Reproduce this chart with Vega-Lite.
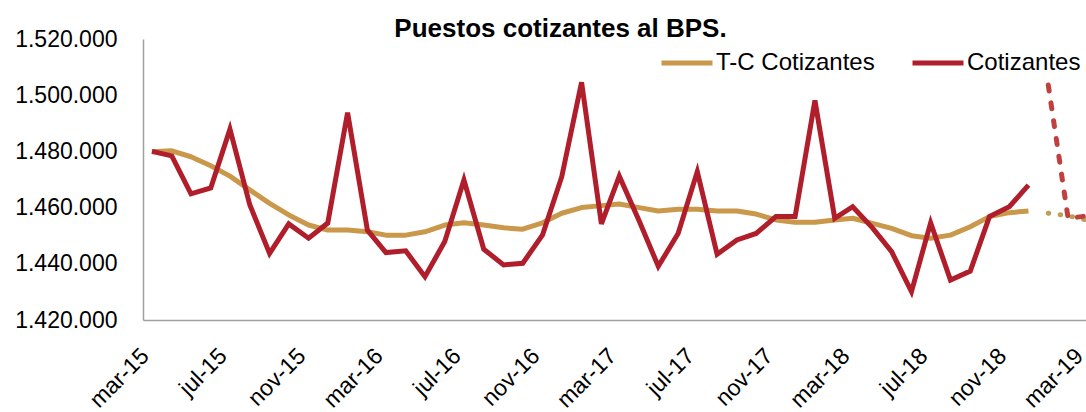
{
  "$schema": "https://vega.github.io/schema/vega-lite/v6.json",
  "autosize": {"type": "none"},
  "padding": {"left": 143, "top": 39, "right": 0, "bottom": 92},
  "width": 943,
  "height": 281,
  "background": "white",
  "title": {
    "text": "Puestos cotizantes al BPS.",
    "font": "Liberation Sans",
    "fontSize": 26,
    "fontWeight": "bold",
    "color": "#000000",
    "anchor": "middle",
    "frame": "group",
    "dx": -54,
    "dy": 14,
    "offset": 0
  },
  "data": {
    "values": [
      {"mes": "2015-03-01", "serie": "Cotizantes", "tipo": "observado", "valor": 1480000},
      {"mes": "2015-04-01", "serie": "Cotizantes", "tipo": "observado", "valor": 1478400},
      {"mes": "2015-05-01", "serie": "Cotizantes", "tipo": "observado", "valor": 1464900},
      {"mes": "2015-06-01", "serie": "Cotizantes", "tipo": "observado", "valor": 1467000},
      {"mes": "2015-07-01", "serie": "Cotizantes", "tipo": "observado", "valor": 1487900},
      {"mes": "2015-08-01", "serie": "Cotizantes", "tipo": "observado", "valor": 1461000},
      {"mes": "2015-09-01", "serie": "Cotizantes", "tipo": "observado", "valor": 1443700},
      {"mes": "2015-10-01", "serie": "Cotizantes", "tipo": "observado", "valor": 1454200},
      {"mes": "2015-11-01", "serie": "Cotizantes", "tipo": "observado", "valor": 1449100},
      {"mes": "2015-12-01", "serie": "Cotizantes", "tipo": "observado", "valor": 1454500},
      {"mes": "2016-01-01", "serie": "Cotizantes", "tipo": "observado", "valor": 1493800},
      {"mes": "2016-02-01", "serie": "Cotizantes", "tipo": "observado", "valor": 1452000},
      {"mes": "2016-03-01", "serie": "Cotizantes", "tipo": "observado", "valor": 1444000},
      {"mes": "2016-04-01", "serie": "Cotizantes", "tipo": "observado", "valor": 1444600},
      {"mes": "2016-05-01", "serie": "Cotizantes", "tipo": "observado", "valor": 1435400},
      {"mes": "2016-06-01", "serie": "Cotizantes", "tipo": "observado", "valor": 1447900},
      {"mes": "2016-07-01", "serie": "Cotizantes", "tipo": "observado", "valor": 1469800},
      {"mes": "2016-08-01", "serie": "Cotizantes", "tipo": "observado", "valor": 1445200},
      {"mes": "2016-09-01", "serie": "Cotizantes", "tipo": "observado", "valor": 1439600},
      {"mes": "2016-10-01", "serie": "Cotizantes", "tipo": "observado", "valor": 1440200},
      {"mes": "2016-11-01", "serie": "Cotizantes", "tipo": "observado", "valor": 1450300},
      {"mes": "2016-12-01", "serie": "Cotizantes", "tipo": "observado", "valor": 1471000},
      {"mes": "2017-01-01", "serie": "Cotizantes", "tipo": "observado", "valor": 1504600},
      {"mes": "2017-02-01", "serie": "Cotizantes", "tipo": "observado", "valor": 1454200},
      {"mes": "2017-03-01", "serie": "Cotizantes", "tipo": "observado", "valor": 1471200},
      {"mes": "2017-04-01", "serie": "Cotizantes", "tipo": "observado", "valor": 1455300},
      {"mes": "2017-05-01", "serie": "Cotizantes", "tipo": "observado", "valor": 1439100},
      {"mes": "2017-06-01", "serie": "Cotizantes", "tipo": "observado", "valor": 1450800},
      {"mes": "2017-07-01", "serie": "Cotizantes", "tipo": "observado", "valor": 1472800},
      {"mes": "2017-08-01", "serie": "Cotizantes", "tipo": "observado", "valor": 1443400},
      {"mes": "2017-09-01", "serie": "Cotizantes", "tipo": "observado", "valor": 1448500},
      {"mes": "2017-10-01", "serie": "Cotizantes", "tipo": "observado", "valor": 1450800},
      {"mes": "2017-11-01", "serie": "Cotizantes", "tipo": "observado", "valor": 1456800},
      {"mes": "2017-12-01", "serie": "Cotizantes", "tipo": "observado", "valor": 1456800},
      {"mes": "2018-01-01", "serie": "Cotizantes", "tipo": "observado", "valor": 1498100},
      {"mes": "2018-02-01", "serie": "Cotizantes", "tipo": "observado", "valor": 1456200},
      {"mes": "2018-03-01", "serie": "Cotizantes", "tipo": "observado", "valor": 1460300},
      {"mes": "2018-04-01", "serie": "Cotizantes", "tipo": "observado", "valor": 1452800},
      {"mes": "2018-05-01", "serie": "Cotizantes", "tipo": "observado", "valor": 1444300},
      {"mes": "2018-06-01", "serie": "Cotizantes", "tipo": "observado", "valor": 1430100},
      {"mes": "2018-07-01", "serie": "Cotizantes", "tipo": "observado", "valor": 1454600},
      {"mes": "2018-08-01", "serie": "Cotizantes", "tipo": "observado", "valor": 1434200},
      {"mes": "2018-09-01", "serie": "Cotizantes", "tipo": "observado", "valor": 1437400},
      {"mes": "2018-10-01", "serie": "Cotizantes", "tipo": "observado", "valor": 1456800},
      {"mes": "2018-11-01", "serie": "Cotizantes", "tipo": "observado", "valor": 1460300},
      {"mes": "2018-12-01", "serie": "Cotizantes", "tipo": "observado", "valor": 1468000},
      {"mes": "2019-01-01", "serie": "Cotizantes", "tipo": "proyección", "valor": 1503600},
      {"mes": "2019-02-01", "serie": "Cotizantes", "tipo": "proyección", "valor": 1456200},
      {"mes": "2019-03-01", "serie": "Cotizantes", "tipo": "proyección", "valor": 1457000},
      {"mes": "2015-03-01", "serie": "T-C Cotizantes", "tipo": "observado", "valor": 1479900},
      {"mes": "2015-04-01", "serie": "T-C Cotizantes", "tipo": "observado", "valor": 1480200},
      {"mes": "2015-05-01", "serie": "T-C Cotizantes", "tipo": "observado", "valor": 1478100},
      {"mes": "2015-06-01", "serie": "T-C Cotizantes", "tipo": "observado", "valor": 1474900},
      {"mes": "2015-07-01", "serie": "T-C Cotizantes", "tipo": "observado", "valor": 1471200},
      {"mes": "2015-08-01", "serie": "T-C Cotizantes", "tipo": "observado", "valor": 1466300},
      {"mes": "2015-09-01", "serie": "T-C Cotizantes", "tipo": "observado", "valor": 1461500},
      {"mes": "2015-10-01", "serie": "T-C Cotizantes", "tipo": "observado", "valor": 1457400},
      {"mes": "2015-11-01", "serie": "T-C Cotizantes", "tipo": "observado", "valor": 1453800},
      {"mes": "2015-12-01", "serie": "T-C Cotizantes", "tipo": "observado", "valor": 1452000},
      {"mes": "2016-01-01", "serie": "T-C Cotizantes", "tipo": "observado", "valor": 1452000},
      {"mes": "2016-02-01", "serie": "T-C Cotizantes", "tipo": "observado", "valor": 1451400},
      {"mes": "2016-03-01", "serie": "T-C Cotizantes", "tipo": "observado", "valor": 1450200},
      {"mes": "2016-04-01", "serie": "T-C Cotizantes", "tipo": "observado", "valor": 1450200},
      {"mes": "2016-05-01", "serie": "T-C Cotizantes", "tipo": "observado", "valor": 1451400},
      {"mes": "2016-06-01", "serie": "T-C Cotizantes", "tipo": "observado", "valor": 1453800},
      {"mes": "2016-07-01", "serie": "T-C Cotizantes", "tipo": "observado", "valor": 1454600},
      {"mes": "2016-08-01", "serie": "T-C Cotizantes", "tipo": "observado", "valor": 1453800},
      {"mes": "2016-09-01", "serie": "T-C Cotizantes", "tipo": "observado", "valor": 1452800},
      {"mes": "2016-10-01", "serie": "T-C Cotizantes", "tipo": "observado", "valor": 1452300},
      {"mes": "2016-11-01", "serie": "T-C Cotizantes", "tipo": "observado", "valor": 1454600},
      {"mes": "2016-12-01", "serie": "T-C Cotizantes", "tipo": "observado", "valor": 1458000},
      {"mes": "2017-01-01", "serie": "T-C Cotizantes", "tipo": "observado", "valor": 1460000},
      {"mes": "2017-02-01", "serie": "T-C Cotizantes", "tipo": "observado", "valor": 1460700},
      {"mes": "2017-03-01", "serie": "T-C Cotizantes", "tipo": "observado", "valor": 1461300},
      {"mes": "2017-04-01", "serie": "T-C Cotizantes", "tipo": "observado", "valor": 1460000},
      {"mes": "2017-05-01", "serie": "T-C Cotizantes", "tipo": "observado", "valor": 1458800},
      {"mes": "2017-06-01", "serie": "T-C Cotizantes", "tipo": "observado", "valor": 1459400},
      {"mes": "2017-07-01", "serie": "T-C Cotizantes", "tipo": "observado", "valor": 1459400},
      {"mes": "2017-08-01", "serie": "T-C Cotizantes", "tipo": "observado", "valor": 1458800},
      {"mes": "2017-09-01", "serie": "T-C Cotizantes", "tipo": "observado", "valor": 1458800},
      {"mes": "2017-10-01", "serie": "T-C Cotizantes", "tipo": "observado", "valor": 1457700},
      {"mes": "2017-11-01", "serie": "T-C Cotizantes", "tipo": "observado", "valor": 1455600},
      {"mes": "2017-12-01", "serie": "T-C Cotizantes", "tipo": "observado", "valor": 1454800},
      {"mes": "2018-01-01", "serie": "T-C Cotizantes", "tipo": "observado", "valor": 1454800},
      {"mes": "2018-02-01", "serie": "T-C Cotizantes", "tipo": "observado", "valor": 1455600},
      {"mes": "2018-03-01", "serie": "T-C Cotizantes", "tipo": "observado", "valor": 1456200},
      {"mes": "2018-04-01", "serie": "T-C Cotizantes", "tipo": "observado", "valor": 1454400},
      {"mes": "2018-05-01", "serie": "T-C Cotizantes", "tipo": "observado", "valor": 1452600},
      {"mes": "2018-06-01", "serie": "T-C Cotizantes", "tipo": "observado", "valor": 1450000},
      {"mes": "2018-07-01", "serie": "T-C Cotizantes", "tipo": "observado", "valor": 1449100},
      {"mes": "2018-08-01", "serie": "T-C Cotizantes", "tipo": "observado", "valor": 1450200},
      {"mes": "2018-09-01", "serie": "T-C Cotizantes", "tipo": "observado", "valor": 1453200},
      {"mes": "2018-10-01", "serie": "T-C Cotizantes", "tipo": "observado", "valor": 1456800},
      {"mes": "2018-11-01", "serie": "T-C Cotizantes", "tipo": "observado", "valor": 1458200},
      {"mes": "2018-12-01", "serie": "T-C Cotizantes", "tipo": "observado", "valor": 1458800},
      {"mes": "2019-01-01", "serie": "T-C Cotizantes", "tipo": "proyección", "valor": 1458000},
      {"mes": "2019-02-01", "serie": "T-C Cotizantes", "tipo": "proyección", "valor": 1457100},
      {"mes": "2019-03-01", "serie": "T-C Cotizantes", "tipo": "proyección", "valor": 1455600}
    ]
  },
  "encoding": {
    "x": {
      "field": "mes",
      "type": "temporal",
      "scale": {
        "domain": [
          {"year": 2015, "month": 2, "date": 15, "utc": true},
          {"year": 2019, "month": 3, "date": 1, "utc": true}
        ]
      },
      "axis": {
        "title": null,
        "values": [
          {"year": 2015, "month": 3, "date": 1, "utc": true},
          {"year": 2015, "month": 7, "date": 1, "utc": true},
          {"year": 2015, "month": 11, "date": 1, "utc": true},
          {"year": 2016, "month": 3, "date": 1, "utc": true},
          {"year": 2016, "month": 7, "date": 1, "utc": true},
          {"year": 2016, "month": 11, "date": 1, "utc": true},
          {"year": 2017, "month": 3, "date": 1, "utc": true},
          {"year": 2017, "month": 7, "date": 1, "utc": true},
          {"year": 2017, "month": 11, "date": 1, "utc": true},
          {"year": 2018, "month": 3, "date": 1, "utc": true},
          {"year": 2018, "month": 7, "date": 1, "utc": true},
          {"year": 2018, "month": 11, "date": 1, "utc": true},
          {"year": 2019, "month": 3, "date": 1, "utc": true}
        ],
        "labelExpr": "['ene','feb','mar','abr','may','jun','jul','ago','sep','oct','nov','dic'][utcmonth(datum.value)] + '-' + utcFormat(datum.value, '%y')",
        "labelAngle": -45,
        "labelAlign": "right",
        "labelBaseline": "middle",
        "labelPadding": 32,
        "labelOffset": -7,
        "labelFlush": false,
        "labelOverlap": false,
        "labelBound": false,
        "labelFont": "Liberation Sans",
        "labelFontSize": 23,
        "labelColor": "#000000",
        "ticks": false,
        "grid": false,
        "domainColor": "#A0A0A0",
        "domainWidth": 1.5
      }
    },
    "y": {
      "field": "valor",
      "type": "quantitative",
      "scale": {"domain": [1420000, 1520000], "zero": false, "nice": false},
      "axis": {
        "title": null,
        "values": [1420000, 1440000, 1460000, 1480000, 1500000, 1520000],
        "format": ",.0f",
        "labelPadding": 26,
        "labelFont": "Liberation Sans",
        "labelFontSize": 23,
        "labelColor": "#000000",
        "ticks": false,
        "grid": false,
        "domainColor": "#A0A0A0",
        "domainWidth": 1.5
      }
    }
  },
  "layer": [
    {
      "transform": [{"filter": "datum.serie === 'T-C Cotizantes' && datum.tipo === 'observado'"}],
      "mark": {"type": "line", "strokeWidth": 5, "strokeJoin": "round"},
      "encoding": {
        "color": {
          "field": "serie",
          "type": "nominal",
          "scale": {"domain": ["T-C Cotizantes", "Cotizantes"], "range": ["#C9984A", "#AF1E2A"]},
          "legend": {
            "orient": "none",
            "legendX": 516,
            "legendY": -4,
            "direction": "horizontal",
            "columns": 2,
            "title": null,
            "symbolType": "stroke",
            "symbolSize": 2600,
            "symbolStrokeWidth": 5,
            "labelFont": "Liberation Sans",
            "labelFontSize": 24,
            "labelColor": "#000000",
            "labelOffset": 1,
            "columnPadding": 27
          }
        }
      }
    },
    {
      "transform": [{"filter": "datum.serie === 'Cotizantes' && datum.tipo === 'observado'"}],
      "mark": {"type": "line", "strokeWidth": 5},
      "encoding": {
        "color": {"field": "serie", "type": "nominal"}
      }
    },
    {
      "transform": [{"filter": "datum.serie === 'T-C Cotizantes' && datum.tipo === 'proyección'"}],
      "mark": {"type": "line", "strokeWidth": 5, "color": "#BDA152", "strokeDash": [0.5, 11.5], "strokeCap": "round"},
      "encoding": {}
    },
    {
      "transform": [{"filter": "datum.serie === 'Cotizantes' && datum.tipo === 'proyección'"}],
      "mark": {"type": "line", "strokeWidth": 5, "color": "#C0403F", "strokeDash": [6, 12], "strokeCap": "round"},
      "encoding": {}
    }
  ],
  "config": {
    "view": {"stroke": null},
    "font": "Liberation Sans",
    "locale": {
      "number": {"decimal": ",", "thousands": ".", "grouping": [3], "currency": ["", " €"]}
    }
  }
}
